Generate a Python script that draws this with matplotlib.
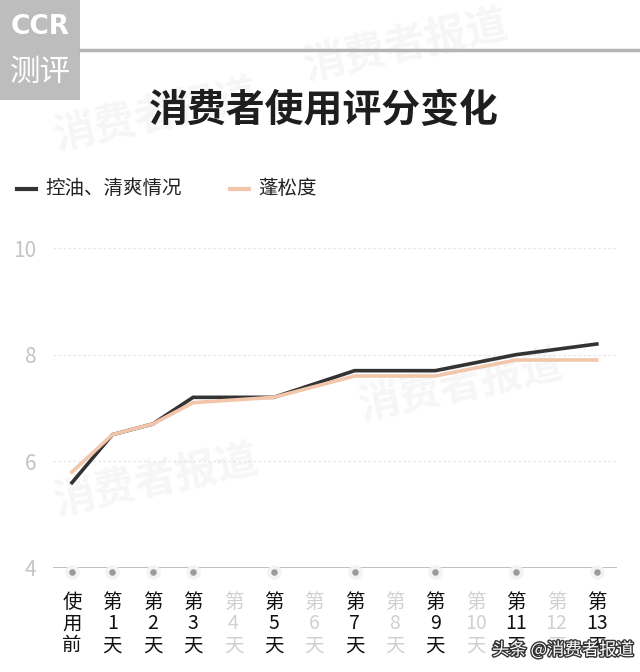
import numpy as np
import matplotlib.pyplot as plt
import matplotlib.patheffects as pe
from matplotlib.patches import Rectangle

plt.rcParams['font.family'] = ['Noto Sans CJK SC', 'DejaVu Sans']

# data
days = ["使用前", "第1天", "第2天", "第3天", "第4天", "第5天", "第6天",
        "第7天", "第8天", "第9天", "第10天", "第11天", "第12天", "第13天"]
tick_labels = ["使\n用\n前"] + ["第\n%d\n天" % i for i in range(1, 14)]
measured_idx = [0, 1, 2, 3, 5, 7, 9, 11, 13]
oil_fresh = [5.6, 6.5, 6.7, 7.2, 7.2, 7.7, 7.7, 8.0, 8.2]
fluffy = [5.8, 6.5, 6.7, 7.1, 7.2, 7.6, 7.6, 7.9, 7.9]
series_names = ["控油、清爽情况", "蓬松度"]
y_ticks = [4, 6, 8, 10]

W, H = 640, 672
fig = plt.figure(figsize=(W / 100, H / 100), dpi=100)
fig.patch.set_facecolor('white')


def fx(px):
    return px / W


def fy(py):
    return 1 - py / H


# faint watermarks
for (x, y) in [(300, 45), (50, 115), (355, 385), (50, 480)]:
    fig.text(fx(x), fy(y), "消费者报道", fontsize=30, color='#f6f6f6', rotation=12,
             ha='left', va='center', fontweight='bold', zorder=-1)

# logo and header line
fig.patches.append(Rectangle((0, fy(100)), fx(80), 100 / H, transform=fig.transFigure,
                             facecolor='#bdbdbd', edgecolor='none', zorder=1))
fig.text(fx(40), fy(27), "CCR", fontsize=19, color='white', fontweight='heavy',
         ha='center', va='center', family='DejaVu Sans', zorder=2)
fig.text(fx(40), fy(72), "测评", fontsize=22, color='white', ha='center', va='center',
         fontweight='light', zorder=2)
fig.add_artist(plt.Line2D([fx(80), 1], [fy(50), fy(50)], transform=fig.transFigure,
                          color='#b5b5b5', lw=2.5))

fig.text(fx(324), fy(110), "消费者使用评分变化", fontsize=28, fontweight='heavy',
         color='#1e1e1e', ha='center', va='center', zorder=2)

# legend
fig.add_artist(plt.Line2D([fx(17), fx(36)], [fy(189), fy(189)], transform=fig.transFigure,
                          color='#333333', lw=3))
fig.text(fx(45), fy(189), series_names[0], fontsize=14, color='#222222', va='center')
fig.add_artist(plt.Line2D([fx(230), fx(249)], [fy(189), fy(189)], transform=fig.transFigure,
                          color='#f2c6aa', lw=3))
fig.text(fx(258), fy(189), series_names[1], fontsize=14, color='#222222', va='center')

ax = fig.add_axes([fx(53), fy(568), fx(617 - 53), (568 - 248) / H])
ax.set_zorder(1)
ax.set_xlim(-0.47, 13.5)
ax.set_ylim(4, 10)
for s in ax.spines.values():
    s.set_visible(False)
ax.axhline(4, color='#bbbbbb', lw=1.3, zorder=1)
for v in y_ticks[1:]:
    ax.axhline(v, color='#e6e6e6', lw=0.9, ls=(0, (2, 2)), zorder=1)

ax.plot(measured_idx, oil_fresh, color='#333333', lw=2.6, zorder=3,
        solid_joinstyle='miter')
ax.plot(measured_idx, fluffy, color='#f2c6aa', lw=2.6, zorder=4,
        solid_joinstyle='miter')

ax.scatter(measured_idx, [3.93] * len(measured_idx), s=110, color='#f3f3f3',
           clip_on=False, zorder=2, linewidths=0)
ax.scatter(measured_idx, [3.93] * len(measured_idx), s=22, color='#9a9a9a',
           clip_on=False, zorder=3, linewidths=0)

ax.set_yticks(y_ticks)
ax.set_yticklabels([str(v) for v in y_ticks], fontsize=15, color='#c4c4c4',
                   fontweight='light')
ax.set_xticks(range(len(days)))
ax.set_xticklabels(tick_labels, fontsize=14, linespacing=1.05)
for i, lab in enumerate(ax.get_xticklabels()):
    lab.set_color('#111111' if i in measured_idx else '#d0d0d0')
ax.tick_params(axis='both', length=0)
ax.tick_params(axis='x', pad=17)
ax.tick_params(axis='y', pad=12)
ax.set_facecolor('none')

fig.text(fx(634), fy(650), "头条 @消费者报道", fontsize=12.5, color='white', ha='right',
         va='center', zorder=5,
         path_effects=[pe.withStroke(linewidth=2, foreground='#333333')])

fig.savefig("out.png", dpi=100)
